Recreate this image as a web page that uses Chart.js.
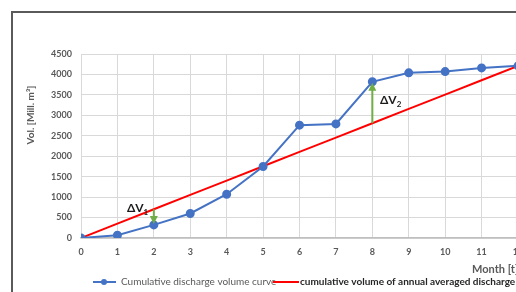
<!DOCTYPE html>
<html>
<head>
<meta charset="utf-8">
<script src="https://cdn.jsdelivr.net/npm/chart.js@4.4.1/dist/chart.umd.min.js"></script>
<style>
  html, body { margin: 0; padding: 0; background: #ffffff; overflow: hidden; width: 516px; height: 292px; }
  #frame { position: absolute; left: 11px; top: 11px; width: 560px; height: 300px; border: 2px solid #5a5a5a; background: #fff; }
  #c { display: block; }
</style>
</head>
<body>
<div id="frame"><canvas id="c" width="560" height="300"></canvas></div>
<script>
// ---- data ----
const months = [0, 1, 2, 3, 4, 5, 6, 7, 8, 9, 10, 11, 12];
const cumulativeDischarge = [0, 70, 320, 600, 1070, 1750, 2760, 2790, 3820, 4040, 4070, 4160, 4210];
const annualAveraged = [0, 351, 702, 1053, 1403, 1754, 2105, 2456, 2807, 3158, 3508, 3859, 4210];
const yTicks = [0, 500, 1000, 1500, 2000, 2500, 3000, 3500, 4000, 4500];
const seriesLabels = ['Cumulative discharge volume curve', 'cumulative volume of annual averaged discharge'];
const arrowMonths = [2, 8];
const deltaLabels = [
  { main: 'ΔV', sub: '1', x: 1.26, y: 720 },
  { main: 'ΔV', sub: '2', x: 8.21, y: 3360 }
];
const xTitle = 'Month [t]';
const yTitle = 'Vol. [Mill. m³]';

const FONT = 'Lato, "Open Sans", "Liberation Sans", sans-serif';
const GRAY = '#595959';
const BLUE = '#4472C4';
const RED = '#FF0000';
const GREEN = '#70AD47';

const extras = {
  id: 'extras',
  afterDatasetsDraw(chart) {
    const ctx = chart.ctx;
    const xs = chart.scales.x, ys = chart.scales.y;
    ctx.save();
    // arrows
    arrowMonths.forEach(m => {
      const i = months.indexOf(m);
      const x = xs.getPixelForValue(m);
      const yFrom = ys.getPixelForValue(annualAveraged[i]);
      const yTo = ys.getPixelForValue(cumulativeDischarge[i]);
      const dir = yTo > yFrom ? 1 : -1;
      ctx.strokeStyle = GREEN; ctx.fillStyle = GREEN; ctx.lineWidth = 2;
      ctx.beginPath(); ctx.moveTo(x, yFrom); ctx.lineTo(x, yTo - dir * 6); ctx.stroke();
      ctx.beginPath();
      ctx.moveTo(x, yTo - dir * 1);
      ctx.lineTo(x - 4, yTo - dir * 9);
      ctx.lineTo(x + 4, yTo - dir * 9);
      ctx.closePath(); ctx.fill();
    });
    // delta labels
    deltaLabels.forEach(d => {
      const px = xs.getPixelForValue(d.x);
      const py = ys.getPixelForValue(d.y);
      ctx.fillStyle = '#1a1a1a';
      ctx.font = 'bold 12px ' + FONT;
      ctx.textAlign = 'left'; ctx.textBaseline = 'middle';
      ctx.fillText(d.main, px, py);
      const w = ctx.measureText(d.main).width;
      ctx.font = 'bold 8px ' + FONT;
      ctx.fillText(d.sub, px + w, py + 4);
    });
    ctx.restore();
  },
  afterDraw(chart) {
    const ctx = chart.ctx;
    const ca = chart.chartArea;
    ctx.save();
    // y title
    ctx.fillStyle = GRAY;
    ctx.font = 'bold 10px ' + FONT;
    ctx.textAlign = 'center'; ctx.textBaseline = 'middle';
    ctx.translate(18, ca.top + 61);
    ctx.rotate(-Math.PI / 2);
    ctx.fillText(yTitle, 0, 0);
    ctx.restore();
    ctx.save();
    // x title
    ctx.fillStyle = GRAY;
    ctx.font = 'bold 11px ' + FONT;
    ctx.textAlign = 'left'; ctx.textBaseline = 'middle';
    ctx.fillText(xTitle, 459, ca.bottom + 31);
    // legend
    const ly = ca.bottom + 44;
    ctx.strokeStyle = BLUE; ctx.fillStyle = BLUE; ctx.lineWidth = 2;
    ctx.beginPath(); ctx.moveTo(80, ly); ctx.lineTo(103, ly); ctx.stroke();
    ctx.beginPath(); ctx.arc(91, ly, 3, 0, Math.PI * 2); ctx.fill();
    ctx.fillStyle = GRAY; ctx.font = '10px ' + FONT;
    ctx.fillText(seriesLabels[0], 108, ly);
    ctx.strokeStyle = RED; ctx.lineWidth = 2;
    ctx.beginPath(); ctx.moveTo(260, ly); ctx.lineTo(286, ly); ctx.stroke();
    ctx.fillStyle = '#262626'; ctx.font = 'bold 10px ' + FONT;
    ctx.fillText(seriesLabels[1], 287, ly);
    ctx.restore();
  }
};

new Chart(document.getElementById('c'), {
  type: 'line',
  data: {
    labels: months,
    datasets: [
      {
        label: seriesLabels[0],
        data: months.map((m, i) => ({ x: m, y: cumulativeDischarge[i] })),
        borderColor: BLUE, backgroundColor: BLUE,
        borderWidth: 2, pointRadius: 3.5, pointHoverRadius: 3.5,
        pointBackgroundColor: BLUE, pointBorderColor: BLUE,
        tension: 0, order: 1
      },
      {
        label: seriesLabels[1],
        data: months.map((m, i) => ({ x: m, y: annualAveraged[i] })),
        borderColor: RED, backgroundColor: RED,
        borderWidth: 2, pointRadius: 0, tension: 0, order: 2
      }
    ]
  },
  options: {
    responsive: false,
    animation: false,
    layout: { padding: { left: 0, top: 41, right: 55, bottom: 0 } },
    plugins: { legend: { display: false }, tooltip: { enabled: false } },
    scales: {
      x: {
        type: 'linear', min: 0, max: 12,
        afterFit: s => { s.height = 75; },
        grid: { color: '#d9d9d9', lineWidth: 1, drawTicks: false },
        border: { color: '#bfbfbf', width: 1.5 },
        ticks: { stepSize: 1, padding: 9, color: GRAY, font: { family: FONT, size: 9, weight: 'bold' }, maxRotation: 0, autoSkip: false }
      },
      y: {
        min: 0, max: 4500,
        afterFit: s => { s.width = 68; },
        afterBuildTicks: s => { s.ticks = yTicks.map(v => ({ value: v })); },
        grid: { color: '#d9d9d9', lineWidth: 1, drawTicks: false },
        border: { display: false },
        ticks: { padding: 9, color: GRAY, font: { family: FONT, size: 9, weight: 'bold' }, callback: v => String(v) }
      }
    }
  },
  plugins: [extras]
});
</script>
</body>
</html>
